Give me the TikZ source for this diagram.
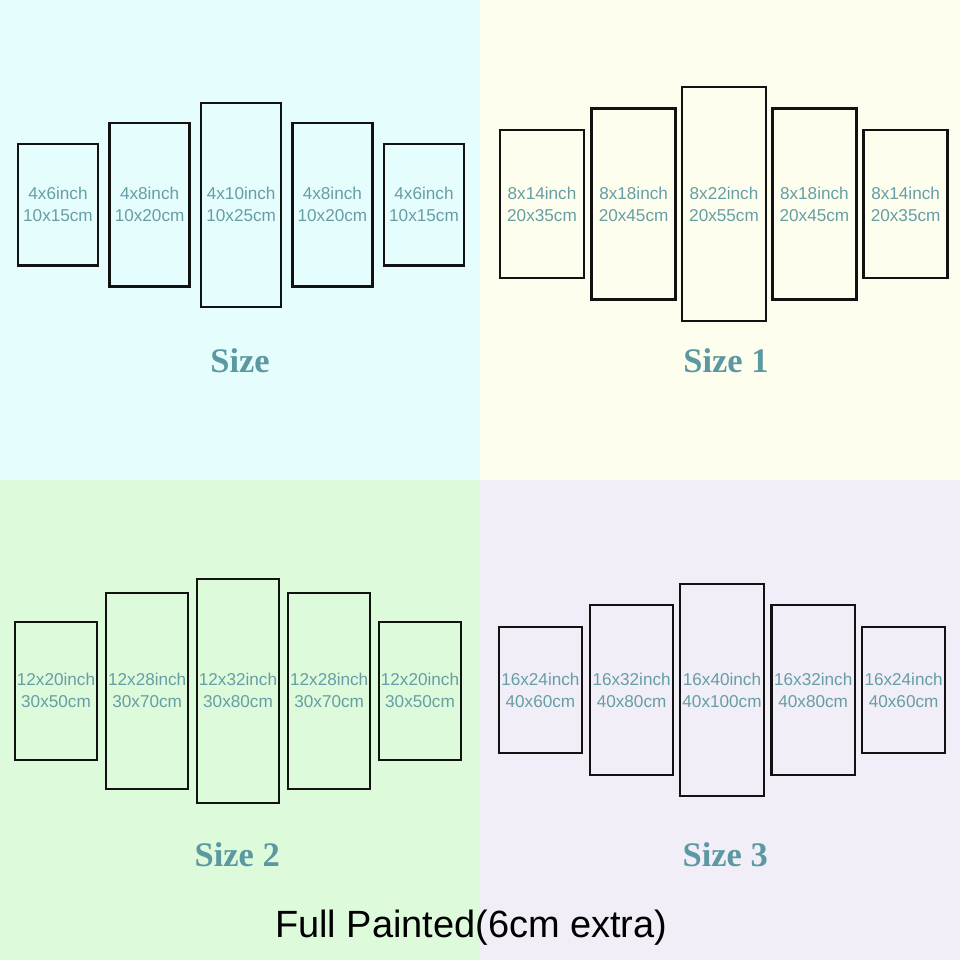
\documentclass[tikz,border=0pt]{standalone}
\usepackage{fontspec}
\usepackage{xcolor}
\newfontfamily\panelfont{Liberation Sans}
\newfontfamily\labelfont{Liberation Serif}
\definecolor{bgcyan}{HTML}{E6FDFD}
\definecolor{bgyellow}{HTML}{FEFEEF}
\definecolor{bggreen}{HTML}{DDFADB}
\definecolor{bglilac}{HTML}{F1EEF8}
\definecolor{frameink}{HTML}{121212}
\definecolor{sizeteal}{HTML}{669EA5}
\definecolor{labelteal}{HTML}{5B98A1}

\begin{document}
\begin{tikzpicture}[
  panel/.style={
    draw=frameink,
    line width=1.6pt,
    fill=none,
    text=sizeteal,
    align=center,
    inner sep=0pt,
    font=\panelfont\fontsize{12.2}{15.6}\selectfont
  },
  sizelabel/.style={
    anchor=base,
    text=labelteal,
    inner sep=0pt,
    font=\labelfont\bfseries\fontsize{24.5}{28}\selectfont
  },
  note/.style={
    anchor=base,
    text=black,
    inner sep=0pt,
    font=\panelfont\fontsize{27}{32}\selectfont
  }
]

\useasboundingbox (0,0) rectangle (24,24);
\fill[bgcyan] (0,12) rectangle (12,24);
\fill[bgyellow] (12,12) rectangle (24,24);
\fill[bggreen] (0,0) rectangle (12,12);
\fill[bglilac] (12,0) rectangle (24,12);

% Size
\node[panel,minimum width=2.00cm,minimum height=3.03cm] (sa1) at (1.45,18.88) {4x6inch\\10x15cm};
\node[panel,minimum width=2.00cm,minimum height=4.08cm] (sa2) at (3.74,18.88) {4x8inch\\10x20cm};
\node[panel,minimum width=2.00cm,minimum height=5.10cm] (sa3) at (6.03,18.88) {4x10inch\\10x25cm};
\node[panel,minimum width=2.00cm,minimum height=4.08cm] (sa4) at (8.31,18.88) {4x8inch\\10x20cm};
\node[panel,minimum width=2.00cm,minimum height=3.03cm] (sa5) at (10.60,18.88) {4x6inch\\10x15cm};
\node[sizelabel] (laba) at (6.00,14.68) {Size};

% Size 1
\node[panel,minimum width=2.10cm,minimum height=3.70cm] (sb1) at (13.55,18.90) {8x14inch\\20x35cm};
\node[panel,minimum width=2.10cm,minimum height=4.78cm] (sb2) at (15.84,18.90) {8x18inch\\20x45cm};
\node[panel,minimum width=2.10cm,minimum height=5.85cm] (sb3) at (18.10,18.90) {8x22inch\\20x55cm};
\node[panel,minimum width=2.10cm,minimum height=4.78cm] (sb4) at (20.36,18.90) {8x18inch\\20x45cm};
\node[panel,minimum width=2.10cm,minimum height=3.70cm] (sb5) at (22.64,18.90) {8x14inch\\20x35cm};
\node[sizelabel] (labb) at (18.15,14.68) {Size 1};

% Size 2
\node[panel,minimum width=2.05cm,minimum height=3.45cm] (sc1) at (1.40,6.73) {12x20inch\\30x50cm};
\node[panel,minimum width=2.05cm,minimum height=4.90cm] (sc2) at (3.68,6.73) {12x28inch\\30x70cm};
\node[panel,minimum width=2.05cm,minimum height=5.60cm] (sc3) at (5.95,6.73) {12x32inch\\30x80cm};
\node[panel,minimum width=2.05cm,minimum height=4.90cm] (sc4) at (8.23,6.73) {12x28inch\\30x70cm};
\node[panel,minimum width=2.05cm,minimum height=3.45cm] (sc5) at (10.50,6.73) {12x20inch\\30x50cm};
\node[sizelabel] (labc) at (5.93,2.33) {Size 2};

% Size 3
\node[panel,minimum width=2.08cm,minimum height=3.15cm] (sd1) at (13.51,6.75) {16x24inch\\40x60cm};
\node[panel,minimum width=2.08cm,minimum height=4.25cm] (sd2) at (15.79,6.75) {16x32inch\\40x80cm};
\node[panel,minimum width=2.10cm,minimum height=5.30cm] (sd3) at (18.05,6.75) {16x40inch\\40x100cm};
\node[panel,minimum width=2.08cm,minimum height=4.25cm] (sd4) at (20.33,6.75) {16x32inch\\40x80cm};
\node[panel,minimum width=2.08cm,minimum height=3.15cm] (sd5) at (22.59,6.75) {16x24inch\\40x60cm};
\node[sizelabel] (labd) at (18.13,2.33) {Size 3};

\node[note] (fullnote) at (11.78,0.55) {Full Painted(6cm extra)};

\end{tikzpicture}
\end{document}
